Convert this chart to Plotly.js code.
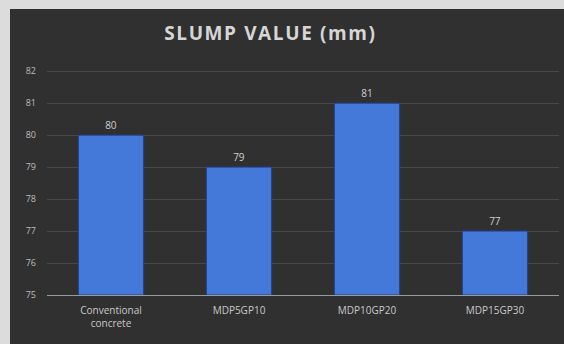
<!DOCTYPE html>
<html>
<head>
<meta charset="utf-8">
<script src="https://cdn.plot.ly/plotly-3.0.1.min.js"></script>
<style>
html,body{margin:0;padding:0;width:564px;height:344px;background:#303030;overflow:hidden;}
#topband{position:absolute;left:0;top:0;width:100%;height:9px;background:#dcdcdc;}
#leftband{position:absolute;left:0;top:0;width:10px;height:100%;background:#dcdcdc;}
#chart{position:absolute;left:10px;top:9px;width:554px;height:335px;background:#303030;}
.gtitle{letter-spacing:1.6px;}
</style>
</head>
<body>
<div id="topband"></div>
<div id="leftband"></div>
<div id="chart"></div>
<script>
const categories = ["Conventional<br>concrete", "MDP5GP10", "MDP10GP20", "MDP15GP30"];
const slumpValues = [80, 79, 81, 77];
const valueLabels = ["80", "79", "81", "77"];
const yTicks = [75, 76, 77, 78, 79, 80, 81, 82];

const trace = {
  type: "bar",
  x: categories,
  y: slumpValues.map(v => v - 75),
  base: 75,
  text: valueLabels,
  textposition: "outside",
  cliponaxis: false,
  textfont: {family: "Open Sans, Liberation Sans, sans-serif", size: 10, color: "#cfcfcf"},
  marker: {color: "#4479da", line: {color: "#22408c", width: 1}},
  width: 0.51,
  hoverinfo: "none"
};

const layout = {
  width: 554, height: 335,
  paper_bgcolor: "#303030",
  plot_bgcolor: "rgba(0,0,0,0)",
  margin: {l: 37, r: 5, t: 59, b: 49},
  showlegend: false,
  title: {
    text: "<b>SLUMP VALUE (mm)</b>",
    font: {family: "Open Sans, Liberation Sans, sans-serif", size: 19, color: "#d6d6d6"},
    x: 0.47, xref: "container", xanchor: "center",
    y: 0.928, yref: "container", yanchor: "middle"
  },
  xaxis: {
    showgrid: false,
    showline: true, linecolor: "#9a9a9a", linewidth: 1,
    ticks: "", ticklabelstandoff: 6,
    tickfont: {family: "Open Sans, Liberation Sans, sans-serif", size: 10, color: "#c8c8c8"},
    fixedrange: true
  },
  yaxis: {
    range: [75, 82.1],
    tickvals: yTicks,
    ticktext: yTicks.map(String),
    showgrid: true, gridcolor: "#484848", gridwidth: 1,
    zeroline: false, showline: false,
    ticks: "", ticklabelstandoff: 10,
    tickfont: {family: "Open Sans, Liberation Sans, sans-serif", size: 9, color: "#bdbdbd"},
    fixedrange: true
  }
};

Plotly.newPlot("chart", [trace], layout, {displayModeBar: false, staticPlot: true});
</script>
</body>
</html>
